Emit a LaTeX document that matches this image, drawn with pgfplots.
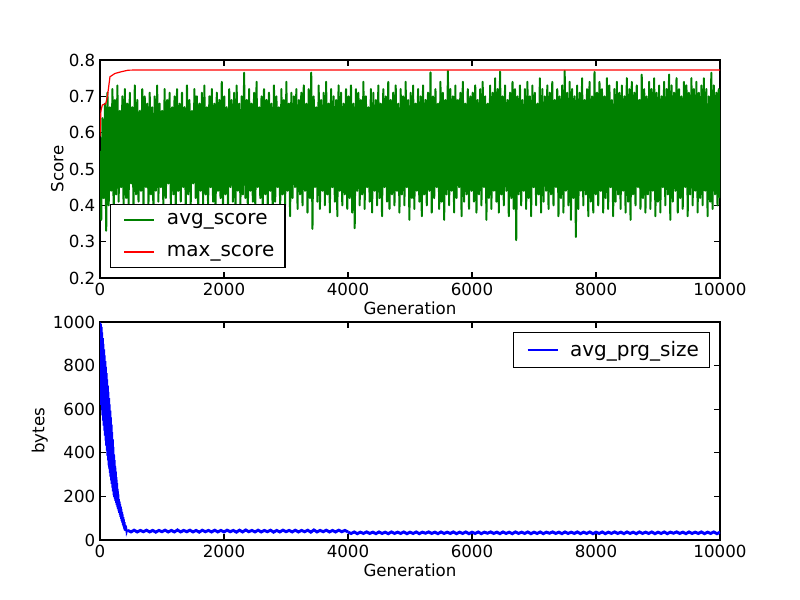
\documentclass[border=0pt]{standalone}
\usepackage{pgfplots}
\pgfplotsset{compat=1.18}
\usepackage{pgfplotstable}
\usepackage{fontspec}
\setmainfont{DejaVu Sans}
\definecolor{mgreen}{rgb}{0,0.5,0}

\pgfplotstableread[row sep=\\,header=false]{
0.55\\0.36\\0.64\\0.42\\0.68\\0.33\\0.71\\0.40\\0.67\\0.44\\0.72\\0.38\\0.69\\0.43\\0.73\\0.41\\0.66\\0.45\\0.70\\0.39\\
0.72\\0.42\\0.68\\0.40\\0.71\\0.46\\0.67\\0.38\\0.73\\0.43\\0.69\\0.41\\0.66\\0.44\\0.72\\0.39\\0.70\\0.45\\0.68\\0.40\\
0.71\\0.43\\0.67\\0.37\\0.70\\0.44\\0.73\\0.41\\0.68\\0.45\\0.66\\0.39\\0.72\\0.42\\0.69\\0.46\\0.71\\0.40\\0.67\\0.43\\
0.70\\0.38\\0.72\\0.44\\0.68\\0.41\\0.71\\0.45\\0.67\\0.39\\0.73\\0.43\\0.69\\0.40\\0.66\\0.46\\0.72\\0.42\\0.70\\0.37\\
0.68\\0.44\\0.71\\0.40\\0.73\\0.43\\0.67\\0.39\\0.70\\0.45\\0.72\\0.41\\0.68\\0.38\\0.71\\0.44\\0.69\\0.42\\0.74\\0.40\\
0.70\\0.43\\0.67\\0.39\\0.72\\0.45\\0.69\\0.41\\0.71\\0.37\\0.73\\0.44\\0.68\\0.40\\0.70\\0.43\\0.765\\0.42\\0.69\\0.38\\
0.72\\0.44\\0.68\\0.41\\0.71\\0.39\\0.74\\0.45\\0.67\\0.42\\0.70\\0.38\\0.72\\0.43\\0.69\\0.40\\0.71\\0.44\\0.68\\0.36\\
0.73\\0.41\\0.70\\0.45\\0.67\\0.39\\0.72\\0.43\\0.69\\0.40\\0.74\\0.44\\0.68\\0.37\\0.71\\0.42\\0.70\\0.45\\0.72\\0.39\\
0.69\\0.43\\0.71\\0.40\\0.73\\0.44\\0.68\\0.38\\0.72\\0.42\\0.765\\0.335\\0.70\\0.45\\0.67\\0.41\\0.73\\0.39\\0.69\\0.44\\
0.71\\0.40\\0.74\\0.43\\0.68\\0.38\\0.72\\0.45\\0.70\\0.41\\0.69\\0.37\\0.73\\0.44\\0.71\\0.40\\0.68\\0.43\\0.72\\0.39\\
0.70\\0.42\\0.73\\0.38\\0.68\\0.337\\0.72\\0.44\\0.71\\0.40\\0.69\\0.43\\0.74\\0.39\\0.70\\0.45\\0.67\\0.41\\0.72\\0.38\\
0.71\\0.44\\0.69\\0.40\\0.73\\0.42\\0.68\\0.37\\0.72\\0.45\\0.70\\0.41\\0.74\\0.39\\0.69\\0.43\\0.71\\0.40\\0.73\\0.44\\
0.68\\0.38\\0.72\\0.43\\0.70\\0.40\\0.74\\0.45\\0.69\\0.36\\0.71\\0.42\\0.73\\0.39\\0.68\\0.44\\0.72\\0.41\\0.70\\0.37\\
0.73\\0.43\\0.69\\0.40\\0.71\\0.44\\0.766\\0.38\\0.70\\0.42\\0.72\\0.45\\0.68\\0.39\\0.74\\0.41\\0.71\\0.36\\0.69\\0.43\\
0.77\\0.40\\0.72\\0.44\\0.70\\0.38\\0.73\\0.42\\0.69\\0.45\\0.71\\0.37\\0.74\\0.41\\0.68\\0.43\\0.72\\0.39\\0.70\\0.44\\
0.71\\0.41\\0.73\\0.38\\0.69\\0.43\\0.72\\0.40\\0.74\\0.45\\0.70\\0.36\\0.68\\0.42\\0.73\\0.39\\0.71\\0.44\\0.75\\0.41\\
0.72\\0.38\\0.768\\0.43\\0.70\\0.40\\0.73\\0.44\\0.69\\0.37\\0.71\\0.42\\0.74\\0.39\\0.72\\0.304\\0.70\\0.43\\0.73\\0.40\\
0.69\\0.44\\0.72\\0.39\\0.74\\0.42\\0.70\\0.37\\0.73\\0.45\\0.71\\0.40\\0.68\\0.43\\0.75\\0.38\\0.72\\0.41\\0.70\\0.44\\
0.73\\0.39\\0.71\\0.43\\0.74\\0.40\\0.69\\0.45\\0.72\\0.37\\0.70\\0.42\\0.73\\0.38\\0.77\\0.44\\0.71\\0.40\\0.74\\0.36\\
0.72\\0.42\\0.70\\0.313\\0.73\\0.39\\0.71\\0.44\\0.75\\0.40\\0.69\\0.43\\0.72\\0.37\\0.74\\0.41\\0.70\\0.38\\0.767\\0.43\\
0.71\\0.40\\0.74\\0.44\\0.72\\0.38\\0.70\\0.42\\0.75\\0.39\\0.73\\0.45\\0.69\\0.37\\0.72\\0.41\\0.74\\0.43\\0.71\\0.39\\
0.73\\0.44\\0.70\\0.38\\0.75\\0.41\\0.72\\0.36\\0.74\\0.43\\0.71\\0.40\\0.73\\0.45\\0.69\\0.39\\0.76\\0.42\\0.72\\0.38\\
0.70\\0.43\\0.74\\0.39\\0.72\\0.44\\0.75\\0.37\\0.71\\0.41\\0.73\\0.38\\0.70\\0.45\\0.74\\0.40\\0.72\\0.43\\0.76\\0.36\\
0.73\\0.41\\0.71\\0.44\\0.75\\0.38\\0.72\\0.42\\0.70\\0.39\\0.74\\0.45\\0.73\\0.37\\0.71\\0.43\\0.75\\0.40\\0.72\\0.44\\
0.74\\0.38\\0.71\\0.42\\0.73\\0.40\\0.75\\0.44\\0.72\\0.37\\0.70\\0.41\\0.765\\0.39\\0.73\\0.43\\0.71\\0.40\\0.72\\0.42\\
}\avgscore

\pgfplotstableread[row sep=\\,header=false]{
44\\37\\45\\37\\44\\38\\45\\37\\44\\36\\
44\\38\\45\\37\\44\\37\\46\\37\\44\\38\\
45\\37\\44\\36\\45\\38\\44\\37\\45\\37\\
44\\37\\45\\38\\44\\36\\45\\37\\46\\38\\
44\\37\\45\\37\\44\\38\\45\\36\\44\\37\\
45\\38\\44\\37\\45\\37\\44\\38\\45\\36\\
46\\37\\44\\38\\45\\37\\44\\37\\45\\38\\
44\\37\\
}\sizemid

\pgfplotstableread[row sep=\\,header=false]{
36\\30\\37\\29\\36\\30\\37\\30\\36\\29\\
37\\30\\36\\29\\37\\30\\36\\30\\37\\29\\
36\\30\\37\\29\\36\\31\\37\\30\\36\\29\\
37\\30\\36\\30\\37\\29\\36\\30\\37\\29\\
36\\30\\37\\29\\36\\31\\37\\30\\36\\29\\
37\\30\\36\\29\\37\\30\\36\\30\\37\\29\\
36\\30\\37\\29\\36\\31\\37\\30\\36\\29\\
37\\30\\36\\30\\37\\29\\36\\30\\37\\29\\
36\\30\\37\\29\\36\\30\\37\\30\\36\\29\\
37\\30\\36\\29\\37\\30\\36\\30\\37\\29\\
36\\30\\37\\29\\36\\31\\37\\30\\36\\29\\
37\\30\\36\\30\\37\\29\\36\\30\\37\\29\\
36\\
}\sizelate

\pgfplotsset{
  mpl/.style={
    scale only axis, width=465pt, height=163.5pt,
    xmin=0, xmax=10000,
    xtick={0,2000,4000,6000,8000,10000},
    tick align=inside, major tick length=4.2pt,
    axis line style={line width=0.9pt},
    every tick/.style={black, line width=0.9pt},
    scaled ticks=false,
    /pgf/number format/assume math mode=true,
    /pgf/number format/set thousands separator={},
    tick label style={font=\fontsize{12.5}{14}\selectfont},
    label style={font=\fontsize{12.5}{14}\selectfont},
    xlabel={Generation},
    xlabel style={yshift=2pt},
    legend cell align=left,
    legend style={draw=black, line width=0.8pt, font=\fontsize{15}{17}\selectfont,
      inner xsep=6pt, inner ysep=4.5pt, row sep=10.5pt},
    legend image code/.code={\path (0pt,0pt); \draw[#1] (3.75pt,0pt) -- (26.25pt,0pt); \path (33pt,0pt);},
  }
}

\begin{document}
\begin{tikzpicture}
\useasboundingbox (0,0) rectangle (600pt,450pt);
\begin{axis}[mpl,
  at={(75pt,241.5pt)}, anchor=south west,
  ymin=0.2, ymax=0.8,
  ytick={0.2,0.3,0.4,0.5,0.6,0.7,0.8},
  yticklabel style={/pgf/number format/.cd, fixed, fixed zerofill, precision=1},
  ylabel={Score}, ylabel style={yshift=-3pt},
  legend style={at={(0.016,0.046)}, anchor=south west},
]
\addplot[mgreen, line width=1.5pt, line join=round, forget plot] table[x expr=\coordindex*20.04, y index=0] {\avgscore};
\addplot[red, line width=0.9pt, forget plot] coordinates {(0,0.59)(15,0.66)(37,0.676)(92,0.68)(120,0.70)(161,0.754)(242,0.763)(350,0.768)(457,0.772)(600,0.7725)(10000,0.7725)};
\addlegendimage{mgreen, line width=1.4pt}
\addlegendentry{avg\_score}
\addlegendimage{red, line width=1.2pt}
\addlegendentry{max\_score}
\end{axis}

\begin{axis}[mpl,
  at={(75pt,45pt)}, anchor=south west,
  ymin=0, ymax=1000,
  ytick={0,200,400,600,800,1000},
  ylabel={bytes}, ylabel style={yshift=-3pt},
  legend style={at={(0.984,0.954)}, anchor=north east},
]
\addplot[blue, line width=1.1pt, forget plot] coordinates {(0,1000)(5,700)(10,995)(15,620)(20,990)(25,596)(30,978)(35,572)(40,952)(45,548)(50,926)(55,525)(60,900)(65,502)(70,874)(75,479)(80,847)(85,456)(90,821)(95,433)(100,794)(105,410)(110,766)(115,387)(120,737)(125,365)(130,708)(135,342)(140,679)(145,325)(150,651)(155,308)(160,622)(165,291)(170,593)(175,274)(180,563)(185,257)(190,529)(195,240)(200,495)(205,223)(210,461)(215,206)(220,427)(225,197)(230,393)(235,188)(240,366)(245,179)(250,340)(255,170)(260,314)(265,160)(270,288)(275,151)(280,261)(285,142)(290,235)(295,133)(300,209)(305,124)(310,188)(315,115)(320,176)(325,106)(330,165)(335,97)(340,153)(345,88)(350,141)(355,79)(360,129)(365,70)(370,117)(375,61)(380,105)(385,52)(390,94)(395,44)(400,82)(405,42)(410,70)(415,41)(420,58)(425,40)(430,48)(435,39)(440,45)(450,44)};
\addplot[blue, line width=2.2pt, forget plot] table[x expr=450+\coordindex*50, y index=0] {\sizemid};
\addplot[blue, line width=2.2pt, forget plot] table[x expr=4000+\coordindex*50, y index=0] {\sizelate};
\addlegendimage{blue, line width=1.1pt}
\addlegendentry{avg\_prg\_size}
\end{axis}
\end{tikzpicture}
\end{document}
